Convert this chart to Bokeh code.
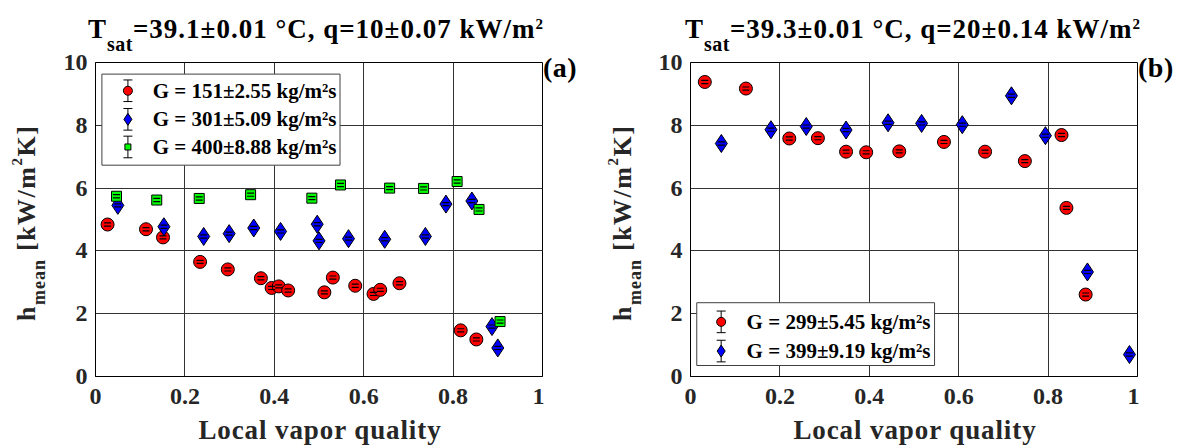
import numpy as np
from bokeh.plotting import figure
from bokeh.models import (Range1d, FixedTicker, CustomJSTickFormatter, Label, Div,
                          ColumnDataSource)
from bokeh.layouts import row, column
from bokeh.embed import file_html
from bokeh.resources import INLINE

# ---------------- data ----------------
X_TICKS = [0, 0.2, 0.4, 0.6, 0.8, 1.0]
X_TICK_LABELS = ["0", "0.2", "0.4", "0.6", "0.8", "1"]
Y_TICKS = [0, 2, 4, 6, 8, 10]
Y_TICK_LABELS = ["0", "2", "4", "6", "8", "10"]

X_LABEL = "Local vapor quality"
Y_LABEL_MAIN = "h"
Y_LABEL_SUB = "mean"
Y_LABEL_REST = ("[kW/m", "2", "K]")

TITLE_T = "T"
TITLE_SUB = "sat"
A_TITLE_MAIN = ("=39.1±0.01 °C, q=10±0.07 kW/m", "2")
B_TITLE_MAIN = ("=39.3±0.01 °C, q=20±0.14 kW/m", "2")
A_TAG = "(a)"
B_TAG = "(b)"

# panel (a)
a151_label = "G = 151±2.55 kg/m²s"
a151_x = [0.027, 0.113, 0.151, 0.234, 0.296, 0.370, 0.394, 0.410, 0.431, 0.512,
          0.531, 0.581, 0.622, 0.637, 0.680, 0.817, 0.852]
a151_y = [4.84, 4.69, 4.43, 3.65, 3.41, 3.13, 2.82, 2.87, 2.74, 2.68,
          3.15, 2.89, 2.63, 2.76, 2.97, 1.47, 1.18]
a151_err = 0.05

a301_label = "G = 301±5.09 kg/m²s"
a301_x = [0.050, 0.153, 0.242, 0.299, 0.354, 0.414, 0.496, 0.500, 0.566, 0.647,
          0.738, 0.784, 0.842, 0.887, 0.900]
a301_y = [5.45, 4.77, 4.46, 4.55, 4.73, 4.62, 4.85, 4.32, 4.39, 4.37,
          4.46, 5.49, 5.59, 1.59, 0.91]
a301_err = 0.05

a400_label = "G = 400±8.88 kg/m²s"
a400_x = [0.047, 0.137, 0.232, 0.347, 0.484, 0.548, 0.658, 0.734, 0.809, 0.858, 0.905]
a400_y = [5.74, 5.62, 5.67, 5.79, 5.68, 6.10, 6.00, 5.99, 6.21, 5.32, 1.75]
a400_err = 0.05

# panel (b)
b299_label = "G = 299±5.45 kg/m²s"
b299_x = [0.032, 0.124, 0.221, 0.285, 0.348, 0.393, 0.467, 0.567, 0.659, 0.748,
          0.830, 0.841, 0.884]
b299_y = [9.38, 9.17, 7.58, 7.59, 7.16, 7.14, 7.17, 7.47, 7.16, 6.86,
          7.69, 5.37, 2.61]
b299_err = 0.05

b399_label = "G = 399±9.19 kg/m²s"
b399_x = [0.069, 0.180, 0.259, 0.348, 0.442, 0.517, 0.608, 0.718, 0.794, 0.888, 0.982]
b399_y = [7.42, 7.86, 7.96, 7.85, 8.08, 8.06, 8.02, 8.94, 7.67, 3.33, 0.70]
b399_err = 0.05

# ---------------- styles ----------------
FONT = "Liberation Serif"
TXT = "#262626"
STYLE = {
    "circle": dict(marker="circle", fill_color="#FF0000", size=13, leg_size=9),
    "diamond": dict(marker="diamond", fill_color="#0000FF", size=18, leg_size=12),
    "square": dict(marker="square", fill_color="#00FF00", size=10, leg_size=6),
}

FRAME_W, FRAME_H = 447, 314
FIG_BL, FIG_BR, FIG_BT, FIG_BB = 45, 2, 14, 47
FIG_W = FIG_BL + FRAME_W + FIG_BR
FIG_H = FIG_BT + FRAME_H + FIG_BB
TITLE_H = 48
XLAB_H = 445 - TITLE_H - FIG_H
TOTAL_H = TITLE_H + FIG_H + XLAB_H
DIV_STYLES = {"margin": "0", "padding": "0", "overflow": "visible"}
HFONT = "font-family:'Liberation Serif';font-weight:bold;white-space:nowrap;"


def make_panel(series, legend_box, legend_rows, legend_icon_x, legend_text_x):
    p = figure(width=FIG_W, height=FIG_H, x_range=Range1d(0, 1), y_range=Range1d(0, 10),
               output_backend="svg", toolbar_location=None,
               min_border_left=FIG_BL, min_border_right=FIG_BR,
               min_border_top=FIG_BT, min_border_bottom=FIG_BB)
    p.background_fill_color = "white"
    p.border_fill_color = None
    p.outline_line_color = "black"
    p.outline_line_width = 1

    for ax in (p.xaxis[0], p.yaxis[0]):
        ax.axis_line_color = "black"
        ax.major_tick_in = 0
        ax.major_tick_out = 0
        ax.minor_tick_line_color = None
        ax.major_label_text_font = FONT
        ax.major_label_text_font_style = "bold"
        ax.major_label_text_font_size = "24px"
        ax.major_label_text_color = TXT
    p.xaxis.ticker = FixedTicker(ticks=X_TICKS)
    p.yaxis.ticker = FixedTicker(ticks=Y_TICKS)
    code = ("const i = tvals.findIndex(t => Math.abs(t - tick) < 1e-9);"
            "return i >= 0 ? tlabels[i] : String(tick);")
    p.xaxis.formatter = CustomJSTickFormatter(args=dict(tvals=X_TICKS, tlabels=X_TICK_LABELS), code=code)
    p.yaxis.formatter = CustomJSTickFormatter(args=dict(tvals=Y_TICKS, tlabels=Y_TICK_LABELS), code=code)
    p.xaxis.major_label_standoff = 12
    p.yaxis.major_label_standoff = 8

    p.xgrid.ticker = FixedTicker(ticks=X_TICKS)
    p.ygrid.ticker = FixedTicker(ticks=Y_TICKS)
    for g in (p.xgrid[0], p.ygrid[0]):
        g.grid_line_color = "#333333"
        g.grid_line_width = 1

    # data with (small) error bars
    for xs, ys, err, kind, label in series:
        st = STYLE[kind]
        up = list(np.array(ys) + err)
        lo = list(np.array(ys) - err)
        src = ColumnDataSource(dict(x=xs, y=ys, up=up, lo=lo))
        p.scatter("x", "y", source=src, marker=st["marker"], size=st["size"],
                  fill_color=st["fill_color"], line_color="black", line_width=1)
        p.scatter("x", "up", source=src, marker="dash", size=7, line_color="black", line_width=1.2)
        p.scatter("x", "lo", source=src, marker="dash", size=7, line_color="black", line_width=1.2)

    # legend (drawn manually so that error-bar icons can be shown)
    l0, l1, b0, t0 = legend_box
    p.quad(left=[l0], right=[l1], bottom=[b0], top=[t0], fill_color="white",
           line_color="#404040", line_width=1)
    half_bar = 0.344
    for (xs, ys, err, kind, label), ry in zip(series, legend_rows):
        st = STYLE[kind]
        p.segment(x0=[legend_icon_x], y0=[ry - half_bar], x1=[legend_icon_x], y1=[ry + half_bar],
                  line_color="black", line_width=1)
        p.scatter(x=[legend_icon_x, legend_icon_x], y=[ry - half_bar, ry + half_bar],
                  marker="dash", size=9, line_color="black", line_width=1)
        p.scatter(x=[legend_icon_x], y=[ry], marker=st["marker"], size=st["leg_size"],
                  fill_color=st["fill_color"], line_color="black", line_width=1)
        p.add_layout(Label(x=legend_text_x, y=ry, text=label, text_font=FONT,
                           text_font_style="bold", text_font_size="21px", text_color="black",
                           text_align="left", text_baseline="middle"))
    return p


def title_div(main, dx):
    html = (f'<div style="{HFONT}font-size:27px;line-height:30px;letter-spacing:1px;color:black;'
            f'transform:translate({dx}px,14.2px);">{TITLE_T}'
            f'<span style="font-size:20px;vertical-align:-13px;line-height:0;letter-spacing:0.5px">{TITLE_SUB}</span>'
            f'{main[0]}<span style="font-size:15px;vertical-align:9px;line-height:0">{main[1]}</span></div>')
    return Div(text=html, width=FIG_W, height=TITLE_H, margin=0, styles=DIV_STYLES)


def xlabel_div():
    html = (f'<div style="{HFONT}width:{FRAME_W}px;margin-left:{FIG_BL}px;text-align:center;'
            f'font-size:27px;line-height:30px;letter-spacing:0.9px;color:{TXT};'
            f'transform:translate(1.5px,-8.1px);">{X_LABEL}</div>')
    return Div(text=html, width=FIG_W, height=XLAB_H, margin=0, styles=DIV_STYLES)


def ylabel_div(width, dx):
    html = (f'<div style="{HFONT}width:240px;font-size:26px;line-height:30px;letter-spacing:1.5px;color:{TXT};'
            f'transform-origin:0 0;transform:translate({dx}px,321px) rotate(-90deg);">{Y_LABEL_MAIN}'
            f'<span style="font-size:18px;vertical-align:-10px;line-height:0;letter-spacing:1px">{Y_LABEL_SUB}</span> '
            f'{Y_LABEL_REST[0]}<span style="font-size:15px;vertical-align:13px;line-height:0">{Y_LABEL_REST[1]}</span>'
            f'{Y_LABEL_REST[2]}</div>')
    return Div(text=html, width=width, height=TOTAL_H, margin=0, styles=DIV_STYLES)


def tag_div(width, tag, dx):
    html = (f'<div style="{HFONT}font-size:28px;line-height:30px;letter-spacing:0.5px;color:black;'
            f'transform:translate({dx}px,53.2px);">{tag}</div>')
    return Div(text=html, width=width, height=TOTAL_H, margin=0, styles=DIV_STYLES)


series_a = [
    (a151_x, a151_y, a151_err, "circle", a151_label),
    (a301_x, a301_y, a301_err, "diamond", a301_label),
    (a400_x, a400_y, a400_err, "square", a400_label),
]
series_b = [
    (b299_x, b299_y, b299_err, "circle", b299_label),
    (b399_x, b399_y, b399_err, "diamond", b399_label),
]

pa = make_panel(series_a, legend_box=(0.0143, 0.547, 6.73, 9.63), legend_rows=[9.10, 8.19, 7.31],
                legend_icon_x=0.0725, legend_text_x=0.128)
pb = make_panel(series_b, legend_box=(0.014, 0.546, 0.35, 2.35), legend_rows=[1.74, 0.81],
                legend_icon_x=0.0686, legend_text_x=0.1255)

YLAB_A_W, TAG_A_W, YLAB_B_W = 50, 56, 45
TAG_B_W = 1177 - (YLAB_A_W + FIG_W + TAG_A_W + YLAB_B_W + FIG_W)

layout = row(
    ylabel_div(YLAB_A_W, 12.2),
    column(title_div(A_TITLE_MAIN, 38), pa, xlabel_div(), spacing=0),
    tag_div(TAG_A_W, A_TAG, -1),
    ylabel_div(YLAB_B_W, 8.2),
    column(title_div(B_TITLE_MAIN, 40), pb, xlabel_div(), spacing=0),
    tag_div(TAG_B_W, B_TAG, -1),
    spacing=0,
)
open("out.html", "w").write(file_html(layout, INLINE))
